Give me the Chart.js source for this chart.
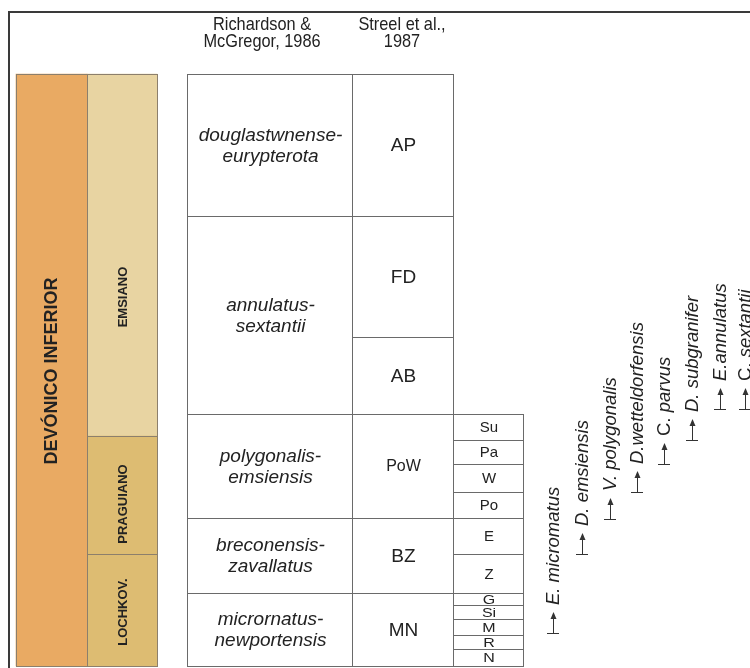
<!DOCTYPE html>
<html>
<head>
<meta charset="utf-8">
<script src="https://cdn.jsdelivr.net/npm/chart.js@4.4.1/dist/chart.umd.min.js"></script>
<style>
  html, body { margin: 0; padding: 0; background: #fff; }
  canvas { display: block; }
</style>
</head>
<body>
<canvas id="chart" width="750" height="668"></canvas>
<script>
// Devónico Inferior - zonación de esporas
// alturas en unidades sobre la base de la sección (0 = base, 592 = techo)

const periodNames = ['DEVÓNICO INFERIOR'];
const periodRanges = [[0, 592]];

const stageNames = ['EMSIANO', 'PRAGUIANO', 'LOCHKOV.'];
const stageRanges = [[230, 592], [112, 230], [0, 112]];

const richardsonZones = [
  ['douglastwnense-', 'eurypterota'],
  ['annulatus-', 'sextantii'],
  ['polygonalis-', 'emsiensis'],
  ['breconensis-', 'zavallatus'],
  ['micrornatus-', 'newportensis']
];
const richardsonRanges = [[450, 592], [252, 450], [148, 252], [73, 148], [0, 73]];

const streelZones = ['AP', 'FD', 'AB', 'PoW', 'BZ', 'MN'];
const streelRanges = [[450, 592], [329, 450], [252, 329], [148, 252], [73, 148], [0, 73]];

const subzoneNames = ['Su', 'Pa', 'W', 'Po', 'E', 'Z', 'G', 'Si', 'M', 'R', 'N'];
const subzoneRanges = [[226, 252], [202, 226], [174, 202], [148, 174], [112, 148], [73, 112],
  [61, 73], [47, 61], [31, 47], [17, 31], [0, 17]];

const speciesNames = ['E. micromatus', 'D. emsiensis', 'V. polygonalis', 'D.wetteldorfensis',
  'C. parvus', 'D. subgranifer', 'E.annulatus', 'C. sextantii'];
const speciesFirst = [33, 112, 147, 174, 202, 226, 257, 257];

const headers = [['Richardson &', 'McGregor, 1986'], ['Streel et al.,', '1987']];

// posiciones de columnas (px)
const LAYOUT = {
  period: { left: 16, right: 87 },
  stage: { left: 87, right: 157 },
  richardson: { left: 187, right: 352 },
  streel: { left: 352, right: 453 },
  subzone: { left: 453, right: 523 },
  speciesX: [553, 582, 610, 637, 664, 692, 720, 745],
  stageLabelShift: [41, 8, 1],
  headerX: [262, 402],
  headerY: [25, 42]
};

const FONT = '"Liberation Sans", Arial, sans-serif';

function column(ranges, col, opts) {
  return Object.assign({
    type: 'bar',
    data: ranges.map(r => ({ x: (col.left + col.right) / 2, y: r })),
    barThickness: col.right - col.left,
    borderWidth: 0,
    backgroundColor: '#ffffff',
    lineColor: '#6a6a6a',
    order: 2
  }, opts);
}

function makeMarker() {
  const c = document.createElement('canvas');
  c.width = 14; c.height = 46;
  const g = c.getContext('2d');
  g.strokeStyle = '#333'; g.fillStyle = '#333'; g.lineWidth = 1;
  g.beginPath(); g.moveTo(1, 23.5); g.lineTo(13, 23.5); g.stroke();
  g.beginPath(); g.moveTo(7.5, 23); g.lineTo(7.5, 7); g.stroke();
  g.beginPath(); g.moveTo(7.5, 2); g.lineTo(4.5, 9); g.lineTo(10.5, 9); g.closePath(); g.fill();
  return c;
}

const stratPlugin = {
  id: 'strat',
  beforeDraw(chart) {
    const ctx = chart.ctx;
    ctx.save();
    ctx.fillStyle = '#fff';
    ctx.fillRect(0, 0, chart.width, chart.height);
    // marco
    ctx.fillStyle = '#3a3a3a';
    ctx.fillRect(8, 11, chart.width - 8, 2);
    ctx.fillRect(8, 11, 2, chart.height - 11);
    // encabezados
    ctx.fillStyle = '#222';
    ctx.font = '19px ' + FONT;
    ctx.textAlign = 'center';
    ctx.textBaseline = 'middle';
    headers.forEach((lines, i) => {
      lines.forEach((t, k) => {
        ctx.save();
        ctx.translate(LAYOUT.headerX[i], LAYOUT.headerY[k]);
        ctx.scale(0.86, 1);
        ctx.fillText(t, 0, 0);
        ctx.restore();
      });
    });
    ctx.restore();
  },
  afterDatasetsDraw(chart) {
    const ctx = chart.ctx;
    ctx.save();
    chart.data.datasets.forEach((ds, i) => {
      const meta = chart.getDatasetMeta(i);
      if (ds.type === 'bar') {
        meta.data.forEach((el, j) => {
          const p = el.getProps(['x', 'y', 'base', 'width'], true);
          const left = Math.round(p.x - p.width / 2), right = Math.round(p.x + p.width / 2);
          const top = Math.round(Math.min(p.y, p.base)), bottom = Math.round(Math.max(p.y, p.base));
          ctx.strokeStyle = ds.lineColor;
          ctx.lineWidth = 1;
          ctx.strokeRect(left + 0.5, top + 0.5, right - left, bottom - top);

          let lab = ds.labels[j];
          if (!lab) return;
          if (!Array.isArray(lab)) lab = [lab];
          const cx = (left + right) / 2 + 1;
          let cy = (top + bottom) / 2 + 1 + (ds.labelShift ? ds.labelShift[j] : 0);
          ctx.fillStyle = ds.textColor || '#222';
          ctx.textAlign = 'center';
          ctx.textBaseline = 'middle';
          const small = ds.squeezeSmall && (bottom - top) < 20;
          ctx.font = (small ? ds.smallFont : (ds.fonts ? ds.fonts[j] : ds.font)) + ' ' + FONT;
          ctx.save();
          ctx.translate(cx, cy);
          if (ds.rotate) ctx.rotate(-Math.PI / 2);
          if (small) ctx.scale(1, 0.8);
          const lh = ds.lineHeight || 20;
          lab.forEach((t, k) => {
            ctx.fillText(t, 0, (k - (lab.length - 1) / 2) * lh);
          });
          ctx.restore();
        });
      } else if (ds.speciesLabels) {
        meta.data.forEach((el, j) => {
          const p = el.getProps(['x', 'y'], true);
          ctx.save();
          ctx.translate(p.x + 1, p.y - 28);
          ctx.rotate(-Math.PI / 2);
          ctx.textAlign = 'left';
          ctx.textBaseline = 'middle';
          ctx.fillStyle = '#222';
          const name = ds.speciesLabels[j];
          if (name.startsWith('C.')) {
            ctx.font = '18.5px ' + FONT;
            ctx.fillText('C.', 0, 0);
            const w = ctx.measureText('C. ').width;
            ctx.font = 'italic 18.5px ' + FONT;
            ctx.fillText(name.slice(3), w, 0);
          } else {
            ctx.font = 'italic 18.5px ' + FONT;
            ctx.fillText(name, 0, 0);
          }
          ctx.restore();
        });
      }
    });
    ctx.restore();
  }
};

new Chart(document.getElementById('chart'), {
  type: 'bar',
  data: {
    datasets: [
      column(periodRanges, LAYOUT.period, {
        backgroundColor: '#E9AA63', lineColor: '#8c7f6c',
        labels: periodNames, font: 'bold 18px', rotate: true
      }),
      column(stageRanges, LAYOUT.stage, {
        backgroundColor: ['#E8D4A2', '#DDBC72', '#DDBC72'], lineColor: '#8c7f6c',
        labels: stageNames, font: 'bold 13px', rotate: true, labelShift: LAYOUT.stageLabelShift
      }),
      column(richardsonRanges, LAYOUT.richardson, {
        labels: richardsonZones, font: 'italic 19px', lineHeight: 21
      }),
      column(streelRanges, LAYOUT.streel, {
        labels: streelZones,
        fonts: ['19px', '19px', '19px', '16px', '19px', '19px']
      }),
      column(subzoneRanges, LAYOUT.subzone, {
        labels: subzoneNames, font: '15px', squeezeSmall: true, smallFont: '16px'
      }),
      {
        type: 'scatter',
        data: speciesFirst.map((v, i) => ({ x: LAYOUT.speciesX[i], y: v })),
        speciesLabels: speciesNames,
        pointStyle: makeMarker(),
        pointRadius: 10,
        clip: false,
        order: 1
      }
    ]
  },
  options: {
    responsive: false,
    animation: false,
    events: [],
    layout: { padding: 0, autoPadding: false },
    plugins: { legend: { display: false }, tooltip: { enabled: false } },
    scales: {
      x: { type: 'linear', min: 0, max: 750, display: false, stacked: true, offset: false },
      y: { type: 'linear', min: -2, max: 666, display: false, stacked: false }
    }
  },
  plugins: [stratPlugin]
});
</script>
</body>
</html>
